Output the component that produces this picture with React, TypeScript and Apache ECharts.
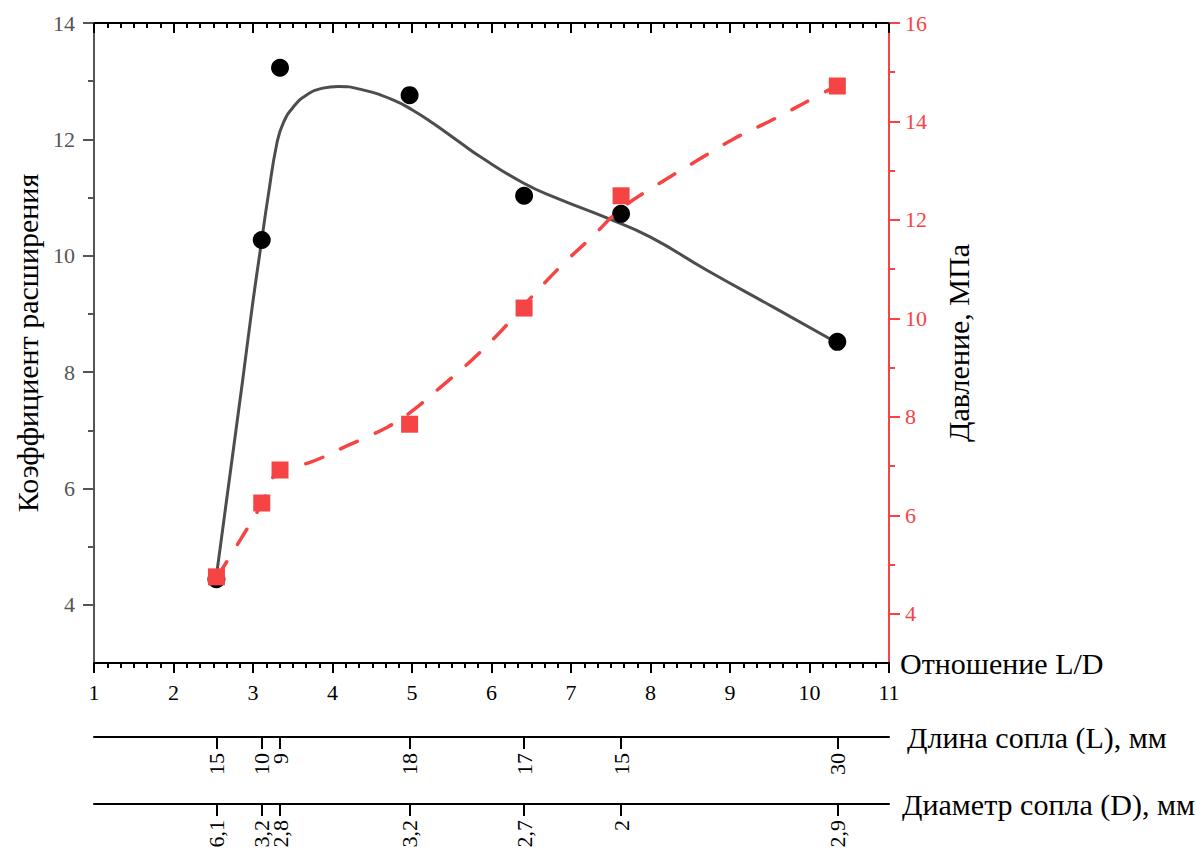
import React, { useEffect, useRef } from "react";
import * as echarts from "echarts";

// Measured points
const ratioLD = [2.54, 3.11, 3.34, 4.97, 6.41, 7.63, 10.35];
const expansion = [4.44, 10.27, 13.23, 12.76, 11.03, 10.72, 8.52];
const pressure = [4.75, 6.25, 6.92, 7.85, 10.21, 12.49, 14.72];
const nozzleLength = ["15", "10", "9", "18", "17", "15", "30"];
const nozzleDiameter = ["6,1", "3,2", "2,8", "3,2", "2,7", "2", "2,9"];

// Fitted curves
const expFitX = [2.54, 2.87, 2.99, 3.11, 3.19, 3.3, 3.38, 3.51, 3.67, 3.88, 4.07, 4.38, 4.76, 5.01, 5.26, 5.6, 5.86, 6.4, 6.82, 7.45, 8.0, 8.71, 9.54, 10.35];
const expFitY = [4.5, 7.86, 9.12, 10.27, 11.02, 11.93, 12.28, 12.56, 12.76, 12.88, 12.91, 12.85, 12.68, 12.5, 12.28, 11.95, 11.7, 11.25, 10.99, 10.65, 10.32, 9.75, 9.12, 8.5];
const presFitX = [2.55, 2.84, 3.11, 3.34, 3.69, 4.18, 4.69, 4.97, 5.35, 5.75, 6.13, 6.41, 6.86, 7.26, 7.64, 8.12, 8.58, 9.04, 9.53, 10.01, 10.36];
const presFitY = [4.75, 5.5, 6.23, 6.94, 7.06, 7.41, 7.79, 8.08, 8.59, 9.15, 9.76, 10.27, 11.04, 11.65, 12.24, 12.75, 13.2, 13.64, 14.03, 14.44, 14.74];

const leftMajor = [4, 6, 8, 10, 12, 14];
const leftMinor = [5, 7, 9, 11, 13];
const rightMajor = [4, 6, 8, 10, 12, 14, 16];
const rightMinor = [5, 7, 9, 11, 13, 15];

const FONT = "'Liberation Serif', 'Times New Roman', serif";
const RED = "#f64444";
const GRAY = "#555555";
const NAME_SIZE = 30;
const LABEL_SIZE = 22;

const zip = (a: number[], b: number[]) => a.map((v, i) => [v, b[i]]);
const lookup = (labels: string[]) => (value: number) => {
  const idx = ratioLD.findIndex((v) => Math.abs(v - value) < 1e-6);
  return idx >= 0 ? labels[idx] : "";
};

export default function App() {
  const ref = useRef<HTMLDivElement>(null);
  useEffect(() => {
    document.body.style.margin = "0";
    if (!ref.current) return;
    const chart = echarts.init(ref.current, null, { renderer: "svg" });
    const hiddenY = (gi: number) => ({
      gridIndex: gi, type: "value", min: 0, max: 1, show: false,
    });
    const extraX = (gi: number, labels: string[], name: string, gap: number) => ({
      gridIndex: gi,
      type: "value",
      min: 1,
      max: 11,
      position: "bottom",
      name,
      nameLocation: "end",
      nameGap: gap,
      nameTextStyle: { fontFamily: FONT, fontSize: NAME_SIZE, color: "#000", verticalAlign: "middle" },
      axisLine: { show: true, lineStyle: { color: "#000", width: 2 } },
      axisTick: { show: true, length: 12, customValues: ratioLD, lineStyle: { color: "#000", width: 2 } },
      axisLabel: {
        show: true, customValues: ratioLD, rotate: 90, margin: 16,
        fontFamily: FONT, fontSize: LABEL_SIZE, color: "#000",
        formatter: lookup(labels),
      },
      splitLine: { show: false },
    });
    chart.setOption({
      animation: false,
      backgroundColor: "#fff",
      grid: [
        { left: 94, top: 23, width: 795, height: 640 },
        { left: 94, top: 700, width: 795, height: 37 },
        { left: 94, top: 770, width: 795, height: 34 },
      ],
      xAxis: [
        {
          gridIndex: 0, type: "value", min: 1, max: 11, interval: 1,
          name: "Отношение L/D", nameLocation: "end", nameGap: 11,
          nameTextStyle: { fontFamily: FONT, fontSize: NAME_SIZE, color: "#000", verticalAlign: "middle" },
          axisLine: { show: true, onZero: false, lineStyle: { color: "#000", width: 2 } },
          axisTick: { show: true, length: 10, lineStyle: { color: "#000", width: 2 } },
          minorTick: { show: true, splitNumber: 6, length: 5, lineStyle: { color: "#000", width: 2 } },
          axisLabel: { margin: 18, fontFamily: FONT, fontSize: LABEL_SIZE, color: "#000" },
          splitLine: { show: false },
        },
        {
          gridIndex: 0, type: "value", min: 1, max: 11, interval: 1, position: "top",
          axisLine: { show: true, onZero: false, lineStyle: { color: "#000", width: 2 } },
          axisTick: { show: true, inside: true, length: 10, lineStyle: { color: "#000", width: 2 } },
          minorTick: { show: true, splitNumber: 6, length: 5, lineStyle: { color: "#000", width: 2 } },
          axisLabel: { show: false },
          splitLine: { show: false },
        },
        extraX(1, nozzleLength, "Длина сопла (L), мм", 18),
        extraX(2, nozzleDiameter, "Диаметр сопла (D), мм", 13),
      ],
      yAxis: [
        {
          gridIndex: 0, type: "value", min: 3, max: 14, position: "left",
          name: "Коэффициент расширения", nameLocation: "middle", nameRotate: 90, nameGap: 50,
          nameTextStyle: { fontFamily: FONT, fontSize: NAME_SIZE, color: "#000" },
          axisLine: { show: true, onZero: false, lineStyle: { color: GRAY, width: 2 } },
          axisTick: { show: true, length: 11, customValues: leftMajor, lineStyle: { color: GRAY, width: 2 } },
          axisLabel: { customValues: leftMajor, margin: 19, fontFamily: FONT, fontSize: LABEL_SIZE, color: GRAY },
          splitLine: { show: false },
        },
        {
          gridIndex: 0, type: "value", min: 3, max: 16, position: "right",
          name: "Давление, МПа", nameLocation: "middle", nameRotate: 90, nameGap: 54,
          nameTextStyle: { fontFamily: FONT, fontSize: NAME_SIZE, color: "#000" },
          axisLine: { show: true, onZero: false, lineStyle: { color: RED, width: 2 } },
          axisTick: { show: true, length: 11, customValues: rightMajor, lineStyle: { color: RED, width: 2 } },
          axisLabel: { customValues: rightMajor, margin: 16, fontFamily: FONT, fontSize: LABEL_SIZE, color: RED },
          splitLine: { show: false },
        },
        {
          gridIndex: 0, type: "value", min: 3, max: 14, position: "left",
          axisLine: { show: false },
          axisTick: { show: true, length: 6, customValues: leftMinor, lineStyle: { color: GRAY, width: 2 } },
          axisLabel: { show: false },
          splitLine: { show: false },
        },
        {
          gridIndex: 0, type: "value", min: 3, max: 16, position: "right",
          axisLine: { show: false },
          axisTick: { show: true, length: 6, customValues: rightMinor, lineStyle: { color: RED, width: 2 } },
          axisLabel: { show: false },
          splitLine: { show: false },
        },
        hiddenY(1),
        hiddenY(2),
      ],
      series: [
        {
          type: "line", xAxisIndex: 0, yAxisIndex: 0, data: zip(expFitX, expFitY),
          smooth: 0.5, showSymbol: false, symbol: "none",
          lineStyle: { color: "#4d4d4d", width: 3 }, z: 2,
        },
        {
          type: "scatter", xAxisIndex: 0, yAxisIndex: 0, data: zip(ratioLD, expansion),
          symbol: "circle", symbolSize: 18, itemStyle: { color: "#000", opacity: 1 }, z: 3,
        },
        {
          type: "line", xAxisIndex: 0, yAxisIndex: 1, data: zip(presFitX, presFitY),
          smooth: 0.4, showSymbol: false, symbol: "none",
          lineStyle: { color: RED, width: 3.5, type: [18, 20], cap: "round" }, z: 4,
        },
        {
          type: "scatter", xAxisIndex: 0, yAxisIndex: 1, data: zip(ratioLD, pressure),
          symbol: "rect", symbolSize: 17, itemStyle: { color: RED, opacity: 1 }, z: 5,
        },
      ],
    });
    return () => chart.dispose();
  }, []);
  return <div ref={ref} style={{ width: 1196, height: 855 }} />;
}
